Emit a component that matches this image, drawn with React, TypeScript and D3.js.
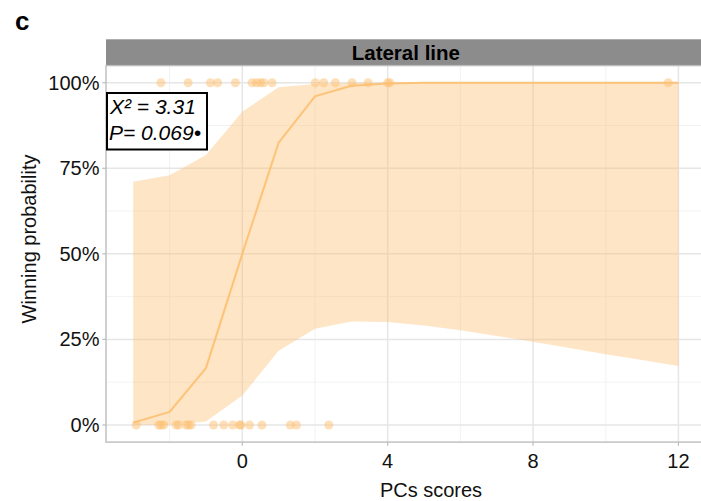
import React from "react";
import * as d3 from "d3";

const xs = [-3, -2, -1, 0, 1, 2, 3, 4, 5, 6, 7, 8, 9, 10, 11, 12];
const fitted = [0.007, 0.038, 0.166, 0.5, 0.825, 0.96, 0.991, 0.998, 1, 1, 1, 1, 1, 1, 1, 1];
const upper = [0.711, 0.73, 0.789, 0.915, 0.987, 0.996, 0.999, 1, 1, 1, 1, 1, 1, 1, 1, 1];
const lower = [0.0, 0.001, 0.01, 0.086, 0.217, 0.281, 0.302, 0.301, 0.291, 0.277, 0.26, 0.243, 0.225, 0.207, 0.19, 0.172];
const winners = [-2.24, -1.49, -0.88, -0.68, -0.19, 0.27, 0.39, 0.5, 0.59, 0.82, 2.01, 2.24, 2.56, 3.02, 3.46, 4.0, 4.06, 11.72];
const losers = [-2.92, -2.3, -2.23, -2.16, -1.82, -1.75, -1.54, -1.48, -1.41, -0.79, -0.51, -0.26, -0.07, -0.04, 0.2, 0.54, 1.32, 1.49, 2.38];
const xTicks = [0, 4, 8, 12];
const xMinor = [-2, 2, 6, 10];
const yTicks = [0, 0.25, 0.5, 0.75, 1];
const yMinor = [0.125, 0.375, 0.625, 0.875];
const facetTitle = "Lateral line";
const statLines = ["X² = 3.31", "P= 0.069•"];

const COL = "#fdbf6f";
const FONT = "'Liberation Sans', Arial, sans-serif";

export default function App() {
  const left = 106, right = 705.7, top = 65.6, bottom = 442.1;
  const x = d3.scaleLinear().domain([-3.75, 12.75]).range([left, right]);
  const y = d3.scaleLinear().domain([-0.05, 1.05]).range([bottom, top]);
  const fit = xs.map((v, i) => ({ x: v, f: fitted[i], lo: lower[i], hi: upper[i] }));
  const area = d3.area<any>().x(d => x(d.x)).y0(d => y(d.lo)).y1(d => y(d.hi))(fit) || "";
  const line = d3.line<any>().x(d => x(d.x)).y(d => y(d.f))(fit) || "";
  const pct = d3.format(".0%");

  return (
    <svg width={701} height={501} style={{ position: "absolute", left: 0, top: 0, background: "#fff" }} fontFamily={FONT}>
      <rect x={0} y={0} width={701} height={501} fill="#fff" />
      <text x={15} y={30} fontSize={26} fontWeight="bold" fill="#000">c</text>
      {/* strip */}
      <rect x={left} y={39.3} width={right - left} height={top - 39.3} fill="#8c8c8c" />
      <text x={(left + right) / 2} y={59.5} textAnchor="middle" fontSize={20.5} fontWeight="bold" fill="#000">{facetTitle}</text>
      {/* grid */}
      {xMinor.map(v => <line key={"xm" + v} x1={x(v)} x2={x(v)} y1={top} y2={bottom} stroke="#f0f0f0" strokeWidth={0.9} />)}
      {yMinor.map(v => <line key={"ym" + v} x1={left} x2={right} y1={y(v)} y2={y(v)} stroke="#f0f0f0" strokeWidth={0.9} />)}
      {xTicks.map(v => <line key={"xg" + v} x1={x(v)} x2={x(v)} y1={top} y2={bottom} stroke="#e6e6e6" strokeWidth={1.5} />)}
      {yTicks.map(v => <line key={"yg" + v} x1={left} x2={right} y1={y(v)} y2={y(v)} stroke="#e6e6e6" strokeWidth={1.5} />)}
      {/* ribbon and fit */}
      <path d={area} fill={COL} fillOpacity={0.4} />
      <path d={line} fill="none" stroke={COL} strokeWidth={2} strokeOpacity={0.9} />
      {winners.map((v, i) => <circle key={"w" + i} cx={x(v)} cy={y(1)} r={4.5} fill={COL} fillOpacity={0.5} />)}
      {losers.map((v, i) => <circle key={"l" + i} cx={x(v)} cy={y(0)} r={4.5} fill={COL} fillOpacity={0.5} />)}
      {/* panel border */}
      <rect x={left} y={top} width={right - left} height={bottom - top} fill="none" stroke="#bdbdbd" strokeWidth={1.4} />
      {/* axes */}
      {yTicks.map(v => (
        <g key={"yt" + v}>
          <line x1={left - 3.7} x2={left} y1={y(v)} y2={y(v)} stroke="#bdbdbd" strokeWidth={1.2} />
          <text x={99.5} y={y(v)} dy="0.35em" textAnchor="end" fontSize={20} fill="#111">{pct(v)}</text>
        </g>
      ))}
      {xTicks.map(v => (
        <g key={"xt" + v}>
          <line x1={x(v)} x2={x(v)} y1={bottom} y2={bottom + 3.7} stroke="#bdbdbd" strokeWidth={1.2} />
          <text x={x(v)} y={468.3} textAnchor="middle" fontSize={20} fill="#111">{v}</text>
        </g>
      ))}
      <text x={431} y={497.3} textAnchor="middle" fontSize={20} fill="#111">PCs scores</text>
      <text transform={`translate(36,239) rotate(-90)`} textAnchor="middle" fontSize={20} fill="#111">Winning probability</text>
      {/* stat box */}
      <rect x={107} y={93} width={100} height={56.5} fill="#fff" stroke="#000" strokeWidth={2} />
      <text x={110} y={114.3} fontSize={21} fontStyle="italic" fill="#000">{statLines[0]}</text>
      <text x={109} y={140} fontSize={21} fontStyle="italic" fill="#000">{statLines[1]}</text>
    </svg>
  );
}
